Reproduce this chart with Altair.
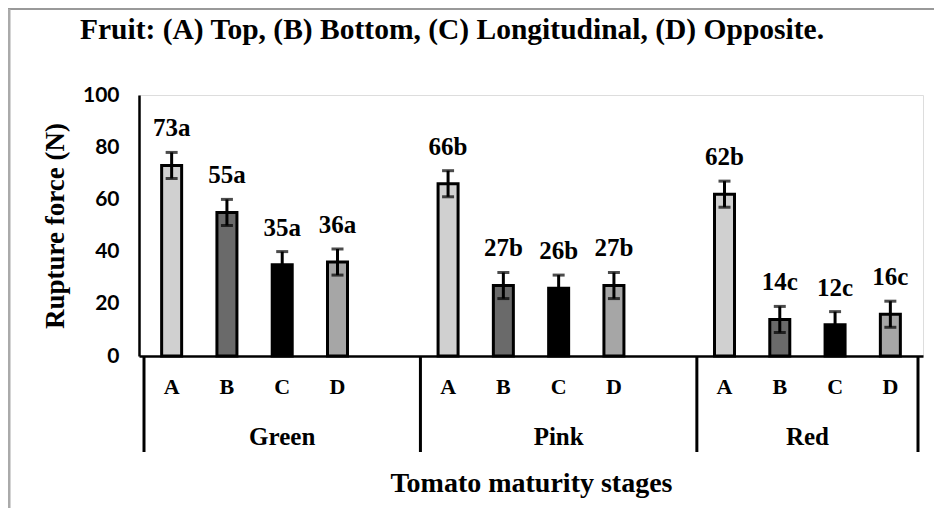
import altair as alt
import pandas as pd

# ---- data ----
title_text = "Fruit: (A) Top, (B) Bottom, (C) Longitudinal, (D) Opposite."
stages = ["Green", "Pink", "Red"]
sides = ["A", "B", "C", "D"]
rupture_force = [73, 55, 35, 36, 66, 27, 26, 27, 62, 14, 12, 16]
error = [5, 5, 5, 5, 5, 5, 5, 5, 5, 5, 5, 5]
letters = ["a", "a", "a", "a", "b", "b", "b", "b", "b", "c", "c", "c"]
y_ticks = [0, 20, 40, 60, 80, 100]

# ---- layout (category slots: 4 bars + 1 blank per stage, last blank dropped) ----
n_slots = len(stages) * (len(sides) + 1) - 1
rows = []
for gi, st in enumerate(stages):
    for si, sd in enumerate(sides):
        k = gi * len(sides) + si
        rows.append(dict(
            stage=st, side=sd, x=gi * (len(sides) + 1) + si + 0.5,
            value=rupture_force[k],
            lo=rupture_force[k] - error[k], hi=rupture_force[k] + error[k],
            label=f"{rupture_force[k]}{letters[k]}",
        ))
df = pd.DataFrame(rows)

groups = []
for gi, st in enumerate(stages):
    start = gi * (len(sides) + 1)
    end = min(start + len(sides) + 1, n_slots)
    groups.append(dict(stage=st, x=(start + end) / 2))
gdf = pd.DataFrame(groups)
sep = pd.DataFrame({"x": [gi * (len(sides) + 1) for gi in range(len(stages))] + [n_slots]})

W, H = 784, 261
serif = "Liberation Serif"

xscale = alt.Scale(domain=[0, n_slots], nice=False, zero=False)
yscale = alt.Scale(domain=[0, 100], nice=False)
xaxis = alt.Axis(labels=False, ticks=False, grid=False, domainColor="black", domainWidth=2.5,
                 title="Tomato maturity stages", titleFont=serif, titleFontSize=28,
                 titleFontWeight="bold", titleColor="black", titlePadding=113)
yaxis = alt.Axis(values=y_ticks, ticks=False, grid=False, domainColor="black", domainWidth=2.5,
                 labelFont="Lato", labelFontWeight="bold", labelFontSize=21, labelColor="black",
                 labelPadding=20, title="Rupture force (N)", titleFont=serif, titleFontSize=27,
                 titleFontWeight="bold", titleColor="black", titlePadding=13)

X = alt.X("x:Q", scale=xscale, axis=xaxis)

def Y(f):
    return alt.Y(f, type="quantitative", scale=yscale, axis=yaxis)

fills = ["#d0d0d0", "#6a6a6a", "#000000", "#a6a6a6"]

base = alt.Chart(df)

bars = base.mark_bar(size=20, stroke="black", strokeWidth=3).encode(
    x=X, y=Y("value"),
    color=alt.Color("side:N", scale=alt.Scale(domain=sides, range=fills), legend=None),
)
err = base.mark_rule(strokeWidth=3, color="black").encode(x=X, y=Y("lo"), y2="hi:Q")
cap_hi = base.mark_tick(orient="horizontal", size=12, thickness=3, color="black").encode(x=X, y=Y("hi"))
cap_lo = base.mark_tick(orient="horizontal", size=12, thickness=3, color="black").encode(x=X, y=Y("lo"))
labels = base.mark_text(font=serif, fontWeight="bold", fontSize=25, color="black",
                        baseline="alphabetic", dy=-16).encode(x=X, y=Y("hi"), text="label:N")
side_text = base.mark_text(font=serif, fontWeight="bold", fontSize=22, color="black",
                           baseline="middle").encode(x=X, y=alt.value(H + 31), text="side:N")
group_text = alt.Chart(gdf).mark_text(font=serif, fontWeight="bold", fontSize=25, color="black",
                                      baseline="middle").encode(x=X, y=alt.value(H + 81), text="stage:N")
seps = alt.Chart(sep).mark_rule(strokeWidth=3, color="black").encode(
    x=X, y=alt.value(H), y2=alt.value(H + 96))
one = pd.DataFrame({"t": [title_text]})
frame_top = alt.Chart(one).mark_rule(color="#999999", strokeWidth=2).encode(
    x=alt.value(-131), x2=alt.value(W + 20), y=alt.value(-86))
frame_left = alt.Chart(one).mark_rule(color="#aaaaaa", strokeWidth=3).encode(
    x=alt.value(-130), y=alt.value(-86), y2=alt.value(H + 160))
title_mark = alt.Chart(one).mark_text(font=serif, fontWeight="bold", fontSize=29.5, color="black",
                                      baseline="middle", align="center").encode(
    x=alt.value(W / 2 - 79), y=alt.value(-65), text="t:N")

chart = alt.layer(frame_top, frame_left, title_mark, bars, err, cap_hi, cap_lo, labels, side_text,
                  group_text, seps).properties(
    width=W, height=H,
    padding={"left": 131, "top": 87, "right": 11, "bottom": 152},
    autosize=alt.AutoSizeParams(type="none"),
).configure_view(stroke=None).configure(background="white")

chart.save("out.html", embed_options={"renderer": "svg", "actions": False})
